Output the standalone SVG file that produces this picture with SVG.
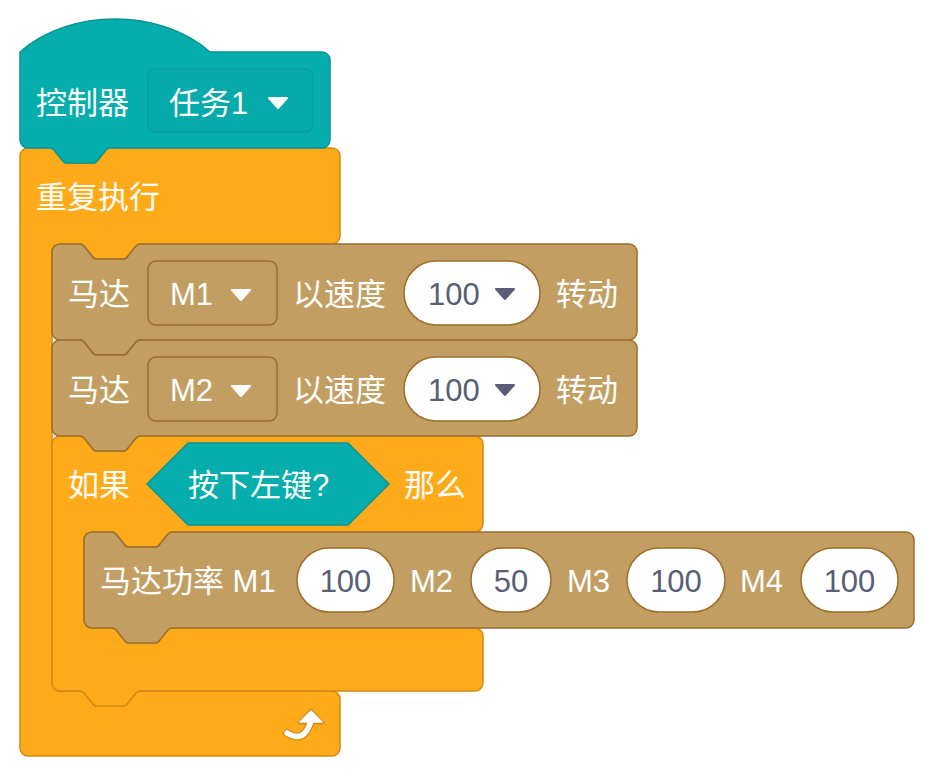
<svg xmlns="http://www.w3.org/2000/svg" width="934" height="778" viewBox="0 0 934 778">
<defs>
<style>
.t{font-family:"Liberation Sans","Noto Sans CJK SC",sans-serif;font-size:31px;fill:#ffffff}
.n{font-family:"Liberation Sans","Noto Sans CJK SC",sans-serif;font-size:31px;fill:#575E75}
.teal{fill:#05ADAD;stroke:#0B9494;stroke-width:1.5}
.orange{fill:#FFAB19;stroke:#CF8B17;stroke-width:1.5}
.brown{fill:#C29E62;stroke:#9A6F2C;stroke-width:1.5}
.dd{fill:#C29E62;stroke:#9A6F2C;stroke-width:1.5}
.ddt{fill:#06AAAA;stroke:#0A9C9C;stroke-width:1.5}
.inp{fill:#ffffff;stroke:#9A6F2C;stroke-width:1.5}
.tri{fill:#ffffff;stroke:#ffffff;stroke-width:2;stroke-linejoin:round}
.trid{fill:#575E75;stroke:#575E75;stroke-width:2;stroke-linejoin:round}
</style>
</defs>
<rect width="934" height="778" fill="#ffffff"/>

<g id="forever">
<path class="orange" d="M20,156 a8,8 0 0 1 8,-8 H50 c2,0 3,1 4,2 l8,10 c1,1.5 2.5,3 5,3 h26 c2.5,0 4,-1.5 5,-3 l8,-10 c1,-1 2,-2 4,-2 H332 a8,8 0 0 1 8,8 V236 a8,8 0 0 1 -8,8 H140 c-2,0 -3,1 -4,2 l-8,10 c-1,1.5 -2.5,3 -5,3 h-26 c-2.5,0 -4,-1.5 -5,-3 l-8,-10 c-1,-1 -2,-2 -4,-2 H60 a8,8 0 0 0 -8,8 V683 a8,8 0 0 0 8,8 H332 a8,8 0 0 1 8,8 V748 a8,8 0 0 1 -8,8 H28 a8,8 0 0 1 -8,-8 Z"/>
<text class="t" x="36" y="208">重复执行</text>
<path d="M287,733 Q304,744 311,721" fill="none" stroke="#CF8B17" stroke-width="8" stroke-linecap="round"/>
<path d="M299,723 L311,710 L323,723 Z" fill="#CF8B17" stroke="#CF8B17" stroke-width="3" stroke-linejoin="round"/>
<path d="M287,733 Q304,744 311,721" fill="none" stroke="#ffffff" stroke-width="5.5" stroke-linecap="round"/>
<path d="M300,722 L311,711 L322,722 Z" fill="#ffffff" stroke="#ffffff" stroke-width="1.5" stroke-linejoin="round"/>
</g>

<g id="hat">
<path class="teal" d="M20,52 C70,8 160,8 210,52 H322 a8,8 0 0 1 8,8 V140 a8,8 0 0 1 -8,8 H110 c-2,0 -3,1 -4,2 l-8,10 c-1,1.5 -2.5,3 -5,3 h-26 c-2.5,0 -4,-1.5 -5,-3 l-8,-10 c-1,-1 -2,-2 -4,-2 H28 a8,8 0 0 1 -8,-8 Z"/>
<text class="t" x="36" y="114">控制器</text>
<rect class="ddt" x="148" y="69" width="165" height="63" rx="8"/>
<text class="t" x="169" y="114">任务1</text>
<path class="tri" d="M269,98 h18 l-9,10 z"/>
</g>

<g id="if">
<path class="orange" d="M52,444 a8,8 0 0 1 8,-8 H80 c2,0 3,1 4,2 l8,10 c1,1.5 2.5,3 5,3 h26 c2.5,0 4,-1.5 5,-3 l8,-10 c1,-1 2,-2 4,-2 H475 a8,8 0 0 1 8,8 V524 a8,8 0 0 1 -8,8 H172 c-2,0 -3,1 -4,2 l-8,10 c-1,1.5 -2.5,3 -5,3 h-26 c-2.5,0 -4,-1.5 -5,-3 l-8,-10 c-1,-1 -2,-2 -4,-2 H92 a8,8 0 0 0 -8,8 V620 a8,8 0 0 0 8,8 H475 a8,8 0 0 1 8,8 V683 a8,8 0 0 1 -8,8 H140 c-2,0 -3,1 -4,2 l-8,10 c-1,1.5 -2.5,3 -5,3 h-26 c-2.5,0 -4,-1.5 -5,-3 l-8,-10 c-1,-1 -2,-2 -4,-2 H60 a8,8 0 0 1 -8,-8 Z"/>
<text class="t" x="68" y="496">如果</text>
<polygon class="teal" points="147,484 188,443 348,443 389,484 348,525 188,525"/>
<text class="t" x="188" y="496">按下左键?</text>
<text class="t" x="404" y="496">那么</text>
</g>

<g id="motor1">
<path class="brown" d="M52,252 a8,8 0 0 1 8,-8 H80 c2,0 3,1 4,2 l8,10 c1,1.5 2.5,3 5,3 h26 c2.5,0 4,-1.5 5,-3 l8,-10 c1,-1 2,-2 4,-2 H629 a8,8 0 0 1 8,8 V332 a8,8 0 0 1 -8,8 H140 c-2,0 -3,1 -4,2 l-8,10 c-1,1.5 -2.5,3 -5,3 h-26 c-2.5,0 -4,-1.5 -5,-3 l-8,-10 c-1,-1 -2,-2 -4,-2 H60 a8,8 0 0 1 -8,-8 Z"/>
<text class="t" x="68" y="305">马达</text>
<rect class="dd" x="148" y="261" width="129" height="64" rx="8"/>
<text class="t" x="170" y="305">M1</text>
<path class="tri" d="M232,290 h18 l-9,10 z"/>
<text class="t" x="293" y="305">以速度</text>
<rect class="inp" x="404" y="261" width="136" height="64" rx="32"/>
<text class="n" x="428" y="305">100</text>
<path class="trid" d="M496,289 h18 l-9,10 z"/>
<text class="t" x="556" y="305">转动</text>
</g>

<g id="motor2">
<path class="brown" d="M52,348 a8,8 0 0 1 8,-8 H80 c2,0 3,1 4,2 l8,10 c1,1.5 2.5,3 5,3 h26 c2.5,0 4,-1.5 5,-3 l8,-10 c1,-1 2,-2 4,-2 H629 a8,8 0 0 1 8,8 V428 a8,8 0 0 1 -8,8 H140 c-2,0 -3,1 -4,2 l-8,10 c-1,1.5 -2.5,3 -5,3 h-26 c-2.5,0 -4,-1.5 -5,-3 l-8,-10 c-1,-1 -2,-2 -4,-2 H60 a8,8 0 0 1 -8,-8 Z"/>
<text class="t" x="68" y="401">马达</text>
<rect class="dd" x="148" y="357" width="129" height="64" rx="8"/>
<text class="t" x="170" y="401">M2</text>
<path class="tri" d="M232,386 h18 l-9,10 z"/>
<text class="t" x="293" y="401">以速度</text>
<rect class="inp" x="404" y="357" width="136" height="64" rx="32"/>
<text class="n" x="428" y="401">100</text>
<path class="trid" d="M496,385 h18 l-9,10 z"/>
<text class="t" x="556" y="401">转动</text>
</g>

<g id="power">
<path class="brown" d="M84,540 a8,8 0 0 1 8,-8 H112 c2,0 3,1 4,2 l8,10 c1,1.5 2.5,3 5,3 h26 c2.5,0 4,-1.5 5,-3 l8,-10 c1,-1 2,-2 4,-2 H906 a8,8 0 0 1 8,8 V620 a8,8 0 0 1 -8,8 H172 c-2,0 -3,1 -4,2 l-8,10 c-1,1.5 -2.5,3 -5,3 h-26 c-2.5,0 -4,-1.5 -5,-3 l-8,-10 c-1,-1 -2,-2 -4,-2 H92 a8,8 0 0 1 -8,-8 Z"/>
<text class="t" x="100" y="592">马达功率 M1</text>
<rect class="inp" x="297" y="548" width="97" height="64" rx="32"/>
<text class="n" x="345.5" y="592" text-anchor="middle">100</text>
<text class="t" x="410" y="592">M2</text>
<rect class="inp" x="471" y="548" width="80" height="64" rx="32"/>
<text class="n" x="511" y="592" text-anchor="middle">50</text>
<text class="t" x="567" y="592">M3</text>
<rect class="inp" x="627" y="548" width="98" height="64" rx="32"/>
<text class="n" x="676" y="592" text-anchor="middle">100</text>
<text class="t" x="740" y="592">M4</text>
<rect class="inp" x="801" y="548" width="97" height="64" rx="32"/>
<text class="n" x="849.5" y="592" text-anchor="middle">100</text>
</g>

<g id="connectors"></g>
</svg>
